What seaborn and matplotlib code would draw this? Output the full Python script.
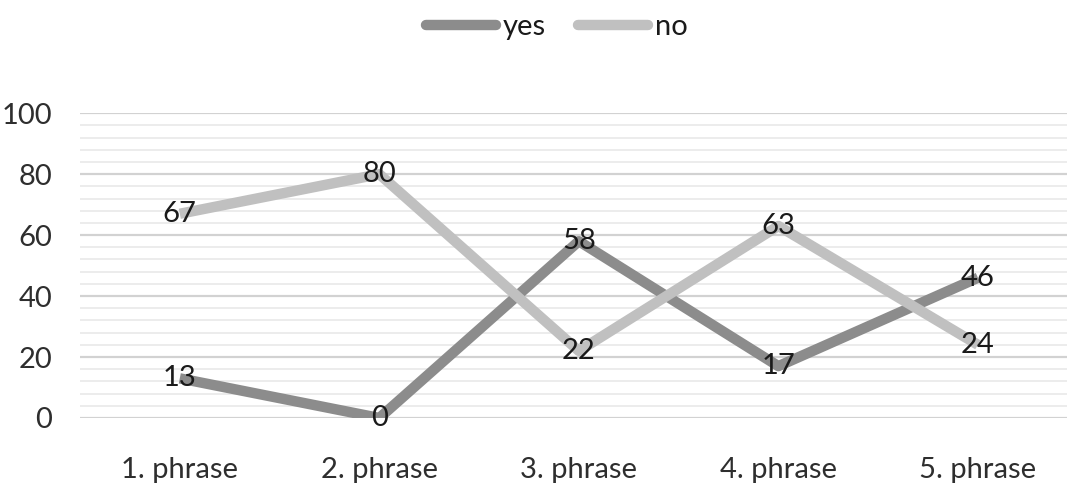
import seaborn as sns
import matplotlib.pyplot as plt
import pandas as pd
from matplotlib.lines import Line2D

# data
phrases = ['1. phrase', '2. phrase', '3. phrase', '4. phrase', '5. phrase']
yes_vals = [13, 0, 58, 17, 46]
no_vals = [67, 80, 22, 63, 24]
series_colors = {'yes': '#8c8c8c', 'no': '#c0c0c0'}

df = pd.DataFrame({
    'phrase': phrases * 2,
    'value': yes_vals + no_vals,
    'answer': ['yes'] * len(phrases) + ['no'] * len(phrases),
})

sns.set_style('white')
plt.rcParams['font.family'] = ['Lato', 'DejaVu Sans']

fig = plt.figure(figsize=(10.67, 4.9), dpi=100)
ax = fig.add_axes([0.075, 0.147, 0.935, 0.622])

# grid lines: major every 20, minor every 4
for v in range(0, 101, 4):
    major = v % 20 == 0
    ax.axhline(v, color='#d2d2d2' if major else '#ebebeb',
               linewidth=1.6 if major else 1.3, zorder=0)

sns.lineplot(data=df, x='phrase', y='value', hue='answer', palette=series_colors,
             linewidth=7.5, sort=False, legend=False, ax=ax, zorder=2)
for line in ax.get_lines():
    line.set_solid_capstyle('butt')

# data labels sit on the points
for i, (y1, y2) in enumerate(zip(yes_vals, no_vals)):
    ax.text(i, y1, str(y1), ha='center', va='center', fontsize=21, color='#1a1a1a', zorder=3)
    ax.text(i, y2, str(y2), ha='center', va='center', fontsize=21, color='#1a1a1a', zorder=3)

ax.set_xlim(-0.5, 4.5)
ax.set_ylim(0, 100)
ax.set_yticks(range(0, 101, 20))
ax.tick_params(axis='y', labelsize=21, pad=20, colors='#2e2e2e', length=0)
ax.tick_params(axis='x', labelsize=21, pad=28, colors='#2e2e2e', length=0)
ax.set_xlabel('')
ax.set_ylabel('')
sns.despine(ax=ax, left=True, bottom=True)

handles = [Line2D([], [], color=series_colors[k], linewidth=7.5, solid_capstyle='round') for k in ['yes', 'no']]
fig.legend(handles, ['yes', 'no'], loc='upper center', bbox_to_anchor=(0.522, 1.025), ncol=2,
           frameon=False, fontsize=21, handlelength=2.4, handletextpad=0.25, columnspacing=1.1,
           labelcolor='#1a1a1a')

fig.savefig('out.png', dpi=100)
